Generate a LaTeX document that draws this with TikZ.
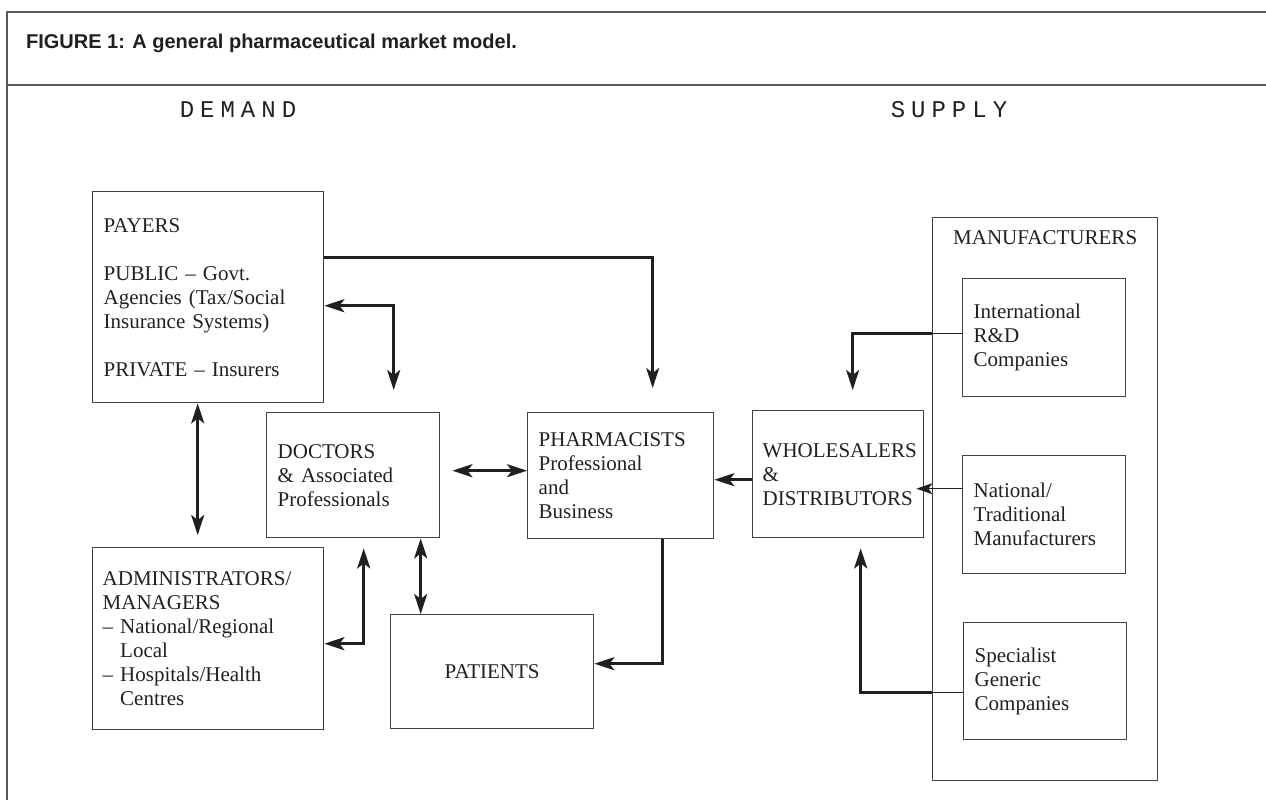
\documentclass[tikz,border=0pt]{standalone}
\usepackage{fontspec}
\usepackage{xcolor}
\usepackage{tikz}
\usetikzlibrary{arrows.meta}
\setmainfont{Liberation Serif}
\newfontfamily\headfont{Liberation Sans}
\newfontfamily\sidefont[LetterSpace=25]{Liberation Mono}
\definecolor{ink}{RGB}{35,31,32}
\definecolor{rulegray}{RGB}{90,90,90}

\begin{document}
\begin{tikzpicture}[x=0.5pt, y=-0.5pt,
  box/.style={rectangle, draw=ink!85, line width=0.7pt, anchor=north west, align=left, inner xsep=5.5pt, text=ink, font=\fontsize{10.5}{12}\selectfont},
  sidelabel/.style={text=ink, font=\sidefont\fontsize{12}{13}\selectfont},
  arrow/.style={-{Stealth[length=10pt,width=6.5pt,inset=2.5pt]}, line width=1.5pt, draw=ink},
  twoway/.style={{Stealth[length=10pt,width=6.5pt,inset=2.5pt]}-{Stealth[length=10pt,width=6.5pt,inset=2.5pt]}, line width=1.5pt, draw=ink},
  thinarrow/.style={-{Stealth[length=8pt,width=5.5pt,inset=2pt]}, line width=0.6pt, draw=ink},
  link/.style={line width=0.6pt, draw=ink}
]
\useasboundingbox (0,0) rectangle (1266,800);

% Frame and title
\draw[rulegray, line width=0.75pt] (7,800) -- (7,12) -- (1266,12);
\draw[rulegray, line width=0.75pt] (7,85) -- (1266,85);
\node[anchor=west, text=ink, font={\headfont\bfseries\fontsize{10}{12}\selectfont}] (title) at (19,43) {FIGURE 1: A general pharmaceutical market model.};

\node[sidelabel] (demand) at (238,110) {DEMAND};
\node[sidelabel] (supply) at (949,110) {SUPPLY};

% Demand side
\node[box, text width=104.5pt, minimum height=105.5pt] (payers) at (92,191) {PAYERS\\[12pt]PUBLIC – Govt.\\Agencies (Tax/Social\\Insurance Systems)\\[12pt]PRIVATE – Insurers};
\node[box, text width=75.5pt, minimum height=62.5pt] (doctors) at (266,412) {DOCTORS\\\& Associated\\Professionals};
\node[box, inner xsep=5pt, text width=105.5pt, minimum height=91pt] (admin) at (92,547) {ADMINISTRATORS/\\MANAGERS\\– National/Regional\\\phantom{– }Local\\– Hospitals/Health\\\phantom{– }Centres};
\node[box, align=center, text width=90.5pt, minimum height=57pt] (patients) at (390,614) {PATIENTS};
\node[box, text width=82pt, minimum height=63pt] (pharm) at (527,412) {PHARMACISTS\\Professional\\and\\Business};

% Supply side
\node[box, inner xsep=5pt, text width=75.5pt, minimum height=63.5pt] (whole) at (752,410) {WHOLESALERS\\\&\\DISTRIBUTORS};
\node[box, inner sep=0pt, minimum width=112.5pt, minimum height=281.5pt] (manuf) at (932,217) {};
\node[anchor=base, text=ink, font=\fontsize{10.5}{12}\selectfont] (manuftitle) at ([yshift=-13.5pt]manuf.north) {MANUFACTURERS};
\node[box, text width=70.5pt, minimum height=59pt] (intl) at (962,278) {International\\R\&D\\Companies};
\node[box, text width=70.5pt, minimum height=59pt] (national) at (962,455) {National/\\Traditional\\Manufacturers};
\node[box, text width=70.5pt, minimum height=58.5pt] (special) at (963,622) {Specialist\\Generic\\Companies};

% Arrows
\draw[arrow, shorten >=12pt] ([yshift=19.75pt]payers.east) -| ([xshift=16pt]pharm.north);
\draw[twoway, shorten >=11pt] ([yshift=-4.25pt]payers.east) -| ([xshift=20.25pt]doctors.north);
\draw[twoway, shorten >=6pt] ([xshift=-5.25pt]payers.south) -- ([xshift=-5.25pt]admin.north);
\draw[twoway, shorten >=5pt] ([yshift=-2.5pt]admin.east) -| ([xshift=5.25pt]doctors.south);
\draw[twoway] ([xshift=33.75pt]doctors.south) -- ([xshift=33.75pt]doctors.south |- patients.north);
\draw[twoway, shorten <=6pt] ([yshift=2.25pt]doctors.east) -- ([yshift=2.25pt]doctors.east -| pharm.west);
\draw[arrow] ([yshift=-2.75pt]whole.west) -- ([yshift=-2.75pt]whole.west -| pharm.east);
\draw[arrow] ([xshift=21pt]pharm.south) |- ([yshift=4pt]patients.east);

\draw[link] ([yshift=2pt]intl.west) -- ([yshift=2pt]intl.west -| manuf.west) coordinate (intlexit);
\draw[arrow, shorten >=10pt] (intlexit) -| ([xshift=7.25pt]whole.north);
\draw[thinarrow, shorten >=-4pt] ([yshift=13pt]national.west) -- ([yshift=13pt]national.west -| whole.east);
\draw[link] ([yshift=-5.75pt]special.west) -- ([yshift=-5.75pt]special.west -| manuf.west) coordinate (specexit);
\draw[arrow, shorten >=5pt] (specexit) -| ([xshift=11.25pt]whole.south);

\end{tikzpicture}
\end{document}
